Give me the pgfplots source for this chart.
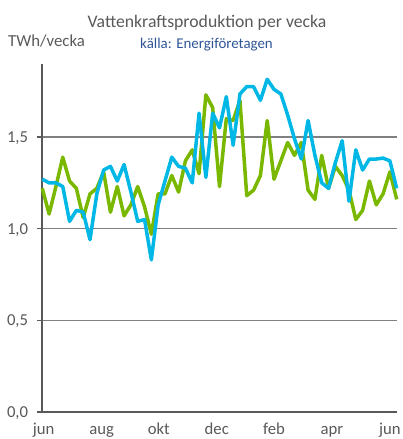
\documentclass[border=0pt]{standalone}
\usepackage{pgfplots}
\pgfplotsset{compat=1.18}
\usepackage{fontspec}
\setmainfont{Carlito}
\definecolor{grn}{RGB}{122,184,0}
\definecolor{cyn}{RGB}{0,183,229}
\definecolor{axgray}{RGB}{89,89,89}
\definecolor{gridgray}{RGB}{128,128,128}
\definecolor{subblue}{RGB}{47,85,151}

\pgfplotstableread{
w g c
0 1.22 1.27
1 1.08 1.25
2 1.23 1.25
3 1.39 1.23
4 1.26 1.04
5 1.22 1.10
6 1.06 1.09
7 1.19 0.94
8 1.22 1.19
9 1.31 1.32
10 1.09 1.34
11 1.23 1.26
12 1.07 1.35
13 1.13 1.20
14 1.23 1.04
15 1.12 1.05
16 0.97 0.83
17 1.19 1.13
18 1.19 1.26
19 1.29 1.39
20 1.20 1.34
21 1.37 1.33
22 1.43 1.25
23 1.30 1.63
24 1.73 1.28
25 1.66 1.63
26 1.23 1.55
27 1.60 1.72
28 1.59 1.455
29 1.70 1.735
30 1.18 1.775
31 1.21 1.775
32 1.29 1.70
33 1.59 1.815
34 1.27 1.76
35 1.37 1.735
36 1.47 1.62
37 1.40 1.49
38 1.47 1.38
39 1.21 1.59
40 1.16 1.40
41 1.40 1.25
42 1.22 1.22
43 1.34 1.36
44 1.29 1.48
45 1.21 1.15
46 1.05 1.43
47 1.10 1.32
48 1.26 1.38
49 1.13 1.38
50 1.19 1.385
51 1.31 1.37
52 1.16 1.22
}\weekly

\begin{document}
\begin{tikzpicture}
\path[use as bounding box] (-42.3pt,-27pt) rectangle (360.7pt,412pt);
\begin{axis}[
  at={(0pt,0pt)}, anchor=south west,
  scale only axis, width=354.4pt, height=348.3pt,
  xmin=0, xmax=52, ymin=0, ymax=1.9,
  axis x line=bottom, axis y line=left,
  axis line style={draw=axgray, line width=2pt, -},
  ytick={0,0.5,1,1.5},
  ymajorgrids, grid style={draw=gridgray, line width=1.2pt},
  xtick={0.2,8.7,17.1,25.6,34.0,42.5,51.0},
  xticklabels={jun,aug,okt,dec,feb,apr,jun},
  x tick style={draw=none},
  y tick style={draw=axgray, line width=1.5pt},
  tick align=outside, major tick length=5pt,
  ticklabel style={font=\fontsize{16.7}{20}\selectfont, text=axgray, inner sep=0pt},
  xticklabel style={anchor=base, yshift=-17pt},
  yticklabel style={anchor=base east, xshift=-9pt, yshift=-5.5pt},
  /pgf/number format/assume math mode=true,
  yticklabel={\pgfmathprintnumber[fixed, fixed zerofill, precision=1, use comma]{\tick}},
  clip=false,
]
\addplot[grn, line width=3.5pt, line join=round] table[x=w, y=g] {\weekly};
\addplot[cyn, line width=3.5pt, line join=round] table[x=w, y=c] {\weekly};
\end{axis}
\node[anchor=base, inner sep=0pt, font=\fontsize{17.7}{20}\selectfont, text=axgray] at (164.7pt,384pt) {Vattenkraftsproduktion per vecka};
\node[anchor=base, inner sep=0pt, font=\fontsize{14.9}{18}\selectfont, text=subblue] at (164.2pt,363.3pt) {källa: Energiföretagen};
\node[anchor=base west, inner sep=0pt, font=\fontsize{16.8}{20}\selectfont, text=axgray] at (-34.3pt,365.3pt) {TWh/vecka};
\end{tikzpicture}
\end{document}
